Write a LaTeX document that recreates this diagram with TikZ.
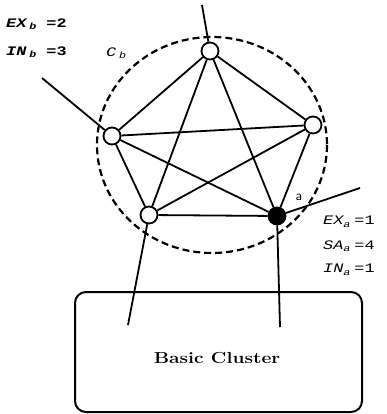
\documentclass[tikz,border=0pt]{standalone}
\usepackage{fontspec}
\newfontfamily\monofont{Liberation Mono}
\newcommand{\wide}[1]{\scalebox{1.3}[1]{#1}}
\newcommand{\sbs}[1]{\raisebox{-2.5pt}{\fontsize{9}{10}\selectfont #1}}
\begin{document}
\begin{tikzpicture}[x=1pt,y=-1pt,
  vert/.style={circle,draw,line width=1.8pt,minimum size=17pt,inner sep=0pt,fill=white},
  filledvert/.style={vert,fill=black},
  edge/.style={line width=1.8pt},
  lbl/.style={anchor=west,inner sep=0pt,font=\monofont\fontsize{13}{15}\selectfont},
  blbl/.style={lbl,font=\monofont\bfseries\fontsize{13}{15}\selectfont}]
\useasboundingbox (0,0) rectangle (387,414);
% dashed cluster boundary
\draw[line width=2.2pt,dash pattern=on 7pt off 4pt] (212,145) ellipse [x radius=115, y radius=108];
% vertices
\node[vert] (T) at (210,51) {};
\node[vert] (L) at (112,136) {};
\node[vert] (R) at (313,125) {};
\node[vert] (B) at (149,215) {};
\node[filledvert] (A) at (277,216) {};
% complete graph
\foreach \u/\v in {T/L,T/R,T/B,T/A,L/R,L/B,L/A,R/B,R/A,B/A}
  \draw[edge] (\u) -- (\v);
% external links
\coordinate (e1) at (202,5);
\coordinate (e2) at (42,78);
\coordinate (e3) at (360,188);
\coordinate (e4) at (128,325);
\coordinate (e5) at (280,327);
\draw[edge] (T) -- (e1);
\draw[edge] (L) -- (e2);
\draw[edge] (A) -- (e3);
\draw[edge] (B) -- (e4);
\draw[edge] (A) -- (e5);
% basic cluster box
\node[draw,line width=2pt,rounded corners=11pt,minimum width=287pt,minimum height=120pt] (box) at (218.5,352) {};
\node[font=\bfseries\fontsize{16}{19}\selectfont] (bc) at (217,358) {\scalebox{1.2}[1]{Basic Cluster}};
% labels
\node[blbl] (exb) at (6,24) {\wide{\itshape EX\,\sbs{b} \upshape=2}};
\node[blbl] (inb) at (6,52) {\wide{\itshape IN\,\sbs{b} \upshape=3}};
\node[lbl] (cb) at (106,53) {\wide{\itshape C\,\sbs{b}}};
\node[font=\sffamily\fontsize{14}{16}\selectfont] (la) at (299,197) {a};
\node[lbl] (exa) at (323,222) {\wide{\itshape EX\sbs{a}\hspace{3pt}\upshape=1}};
\node[lbl] (saa) at (323,246) {\wide{\itshape SA\sbs{a}\hspace{3pt}\upshape=4}};
\node[lbl] (ina) at (323,270) {\wide{\itshape IN\sbs{a}\hspace{3pt}\upshape=1}};
\end{tikzpicture}
\end{document}
